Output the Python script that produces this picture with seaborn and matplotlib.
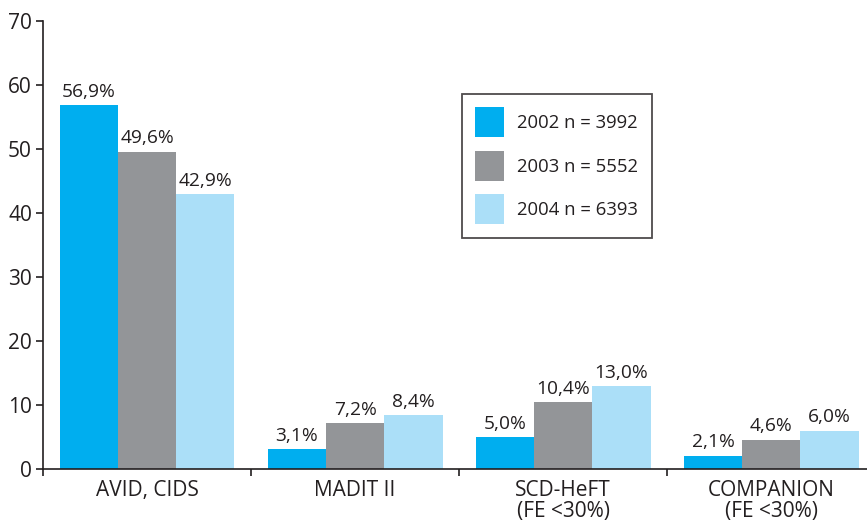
#!/usr/bin/env python3
"""Grouped bar chart: ICD indications per year (2002-2004)."""
import matplotlib

matplotlib.use("Agg")
import matplotlib.pyplot as plt
import pandas as pd
import seaborn as sns
from matplotlib.patches import Patch

categories = ["AVID, CIDS", "MADIT II", "SCD-HeFT\n(FE <30%)", "COMPANION\n(FE <30%)"]
series = ["2002 n = 3992", "2003 n = 5552", "2004 n = 6393"]
values_2002 = [56.9, 3.1, 5.0, 2.1]
values_2003 = [49.6, 7.2, 10.4, 4.6]
values_2004 = [42.9, 8.4, 13.0, 6.0]
colors = ["#00aeef", "#939598", "#abdff8"]

df = pd.DataFrame(
    {
        "cat": categories * 3,
        "serie": [s for s in series for _ in categories],
        "val": values_2002 + values_2003 + values_2004,
    }
)

sns.set_style("white")
plt.rcParams["font.family"] = ["Open Sans", "DejaVu Sans"]
INK = "#231f20"

fig = plt.figure(figsize=(8.67, 5.22), dpi=100)
ax = fig.add_axes([43 / 867, 53 / 522, 824 / 867, 448 / 522])

sns.barplot(
    data=df, x="cat", y="val", hue="serie", palette=colors,
    width=0.84, gap=0, saturation=1, legend=False, linewidth=0, ax=ax,
)

for cont in ax.containers:
    ax.bar_label(
        cont,
        labels=[f"{v:.1f}".replace(".", ",") + "%" for v in cont.datavalues],
        padding=3, fontsize=13.8, color=INK,
    )

ax.set_ylim(0, 70)
ax.set_xlim(-0.5, 3.46)
ax.set_yticks(range(0, 71, 10))
ax.set_xlabel("")
ax.set_ylabel("")
sns.despine(ax=ax)
for sp in ("left", "bottom"):
    ax.spines[sp].set_color(INK)
    ax.spines[sp].set_linewidth(1.2)

ax.tick_params(axis="y", which="major", direction="out", length=5, width=1.2,
               labelsize=15, colors=INK, left=True, pad=3)
ax.tick_params(axis="x", which="major", length=0, labelsize=15, pad=8,
               colors=INK)
for lbl in ax.get_xticklabels():
    lbl.set_linespacing(1.0)
ax.set_xticks([-0.5, 0.5, 1.5, 2.5], minor=True)
ax.tick_params(axis="x", which="minor", direction="out", length=5, width=1.2,
               bottom=True, color=INK)

handles = [Patch(facecolor=c, edgecolor="none") for c in colors]
leg = ax.legend(
    handles, series, loc="upper left", bbox_to_anchor=(419 / 824, 375 / 448),
    fontsize=13.3, frameon=True, fancybox=False, edgecolor=INK,
    handlelength=1.57, handleheight=2.1, handletextpad=0.7,
    labelspacing=0.75, borderpad=0.72, borderaxespad=0,
)
leg.get_frame().set_linewidth(1.3)
for t in leg.get_texts():
    t.set_color(INK)

fig.savefig("out.png", dpi=100)
